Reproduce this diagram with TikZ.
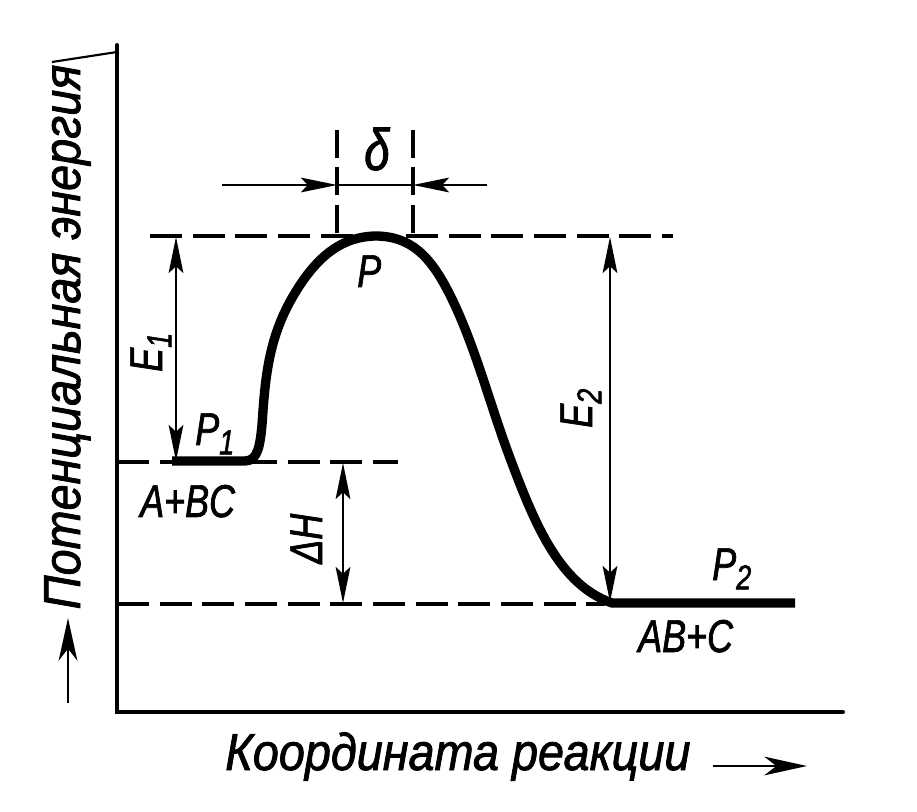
\documentclass[tikz,border=0pt]{standalone}
\usepackage{fontspec}
\setmainfont{Liberation Sans}
\newfontfamily\axf{Liberation Sans}[FakeStretch=0.9, FakeBold=1.5]
\newfontfamily\lbf{Liberation Sans}[FakeStretch=0.78, FakeBold=1.5]
\usetikzlibrary{arrows.meta}
\newcommand{\subx}[1]{\raisebox{-7pt}{\fontsize{26}{26}\selectfont #1}}
\begin{document}
\begin{tikzpicture}[x=0.75pt,y=-0.75pt,
  axisline/.style={line width=3pt, line cap=round},
  energy/.style={line width=7pt, line cap=butt, line join=round},
  dline/.style={line width=2.8pt, dash pattern=on 24pt off 8pt},
  thinl/.style={line width=1.6pt},
  tip/.tip={Stealth[length=27pt,width=11pt,inset=5pt]},
  dimarrow/.style={thinl, tip-tip},
  onearrow/.style={thinl, -tip},
  axlab/.style={inner sep=0pt, font=\axf\itshape\fontsize{39}{39}\selectfont},
  lab/.style={inner sep=0pt, font=\lbf\itshape\fontsize{34.5}{34.5}\selectfont}]
\useasboundingbox (0,0) rectangle (917,812);
% axes
\coordinate (ytop) at (117,45);
\coordinate (orig) at (117,712);
\coordinate (xend) at (843,712);
\coordinate (tick) at (52,62);
\draw[axisline] (ytop) -- (orig) -- (xend);
\draw[thinl] (117,52) -- (tick);
% dashed levels
\coordinate (topL) at (150,236);
\coordinate (topR) at (673,236);
\coordinate (midL) at (117,462);
\coordinate (midR) at (398,462);
\coordinate (botL) at (117,604);
\coordinate (botR) at (605,604);
\draw[dline] (topL) -- (topR);
\draw[dline] (midL) -- (midR);
\draw[dline] (botL) -- (botR);
% delta dashed verticals
\coordinate (v1t) at (337,130);
\coordinate (v1b) at (337,236);
\coordinate (v2t) at (413,130);
\coordinate (v2b) at (413,236);
\draw[dline, dash pattern=on 21pt off 7pt] (v1t) -- (v1b);
\draw[dline, dash pattern=on 21pt off 7pt] (v2t) -- (v2b);
% delta arrows
\coordinate (dl) at (222,185);
\coordinate (d1) at (337,185);
\coordinate (d2) at (413,185);
\coordinate (dr) at (487,185);
\draw[thinl] (d1) -- (d2);
\draw[onearrow] (dl) -- (d1);
\draw[onearrow] (dr) -- (d2);
% energy curve
\draw[energy] (172,461) -- (245,461)
  .. controls (258,461) and (260,445) .. (262,425)
  .. controls (265,380) and (268,340) .. (292,298)
  .. controls (315,258) and (340,237) .. (375,236)
  .. controls (410,236) and (430,255) .. (450,295)
  .. controls (475,345) and (490,405) .. (510,458)
  .. controls (535,525) and (560,585) .. (612,603)
  -- (795,603);
% dimension arrows
\coordinate (e1t) at (176,237);
\coordinate (e1b) at (176,461);
\coordinate (e2t) at (610,237);
\coordinate (e2b) at (610,602);
\coordinate (dht) at (343,463);
\coordinate (dhb) at (343,603);
\draw[dimarrow] (e1t) -- (e1b);
\draw[dimarrow] (e2t) -- (e2b);
\draw[dimarrow] (dht) -- (dhb);
% labels
\node[lab, anchor=base west, font=\lbf\itshape\fontsize{44}{44}\selectfont] (delta) at (364,170) {δ};
\node[lab, anchor=base west] (P) at (357,287) {P};
\node[lab, anchor=base west] (P1) at (195,445) {P\subx{1}};
\node[lab, anchor=base west] (P2) at (712,580) {P\subx{2}};
\node[lab, anchor=base west] (ABC) at (140,517) {A+BC};
\node[lab, anchor=base west] (ABC2) at (638,652) {AB+C};
\node[lab, anchor=base west, rotate=90] (E1) at (162,372) {E\subx{1}};
\node[lab, anchor=base west, rotate=90] (E2) at (592,428) {E\subx{2}};
\node[lab, anchor=base west, rotate=90] (dH) at (322,564) {ΔH};
% axis labels
\node[axlab, anchor=base, rotate=90] (ylab) at (80,337) {Потенциальная энергия};
\node[axlab, anchor=base west] (xlab) at (225,770) {Координата реакции};
\coordinate (ya0) at (68,703);
\coordinate (ya1) at (68,618);
\coordinate (xa0) at (713,766);
\coordinate (xa1) at (807,766);
\draw[thinl, -{Stealth[length=32pt,width=14pt,inset=9pt]}] (ya0) -- (ya1);
\draw[thinl, -{Stealth[length=32pt,width=14pt,inset=9pt]}] (xa0) -- (xa1);
\end{tikzpicture}
\end{document}
